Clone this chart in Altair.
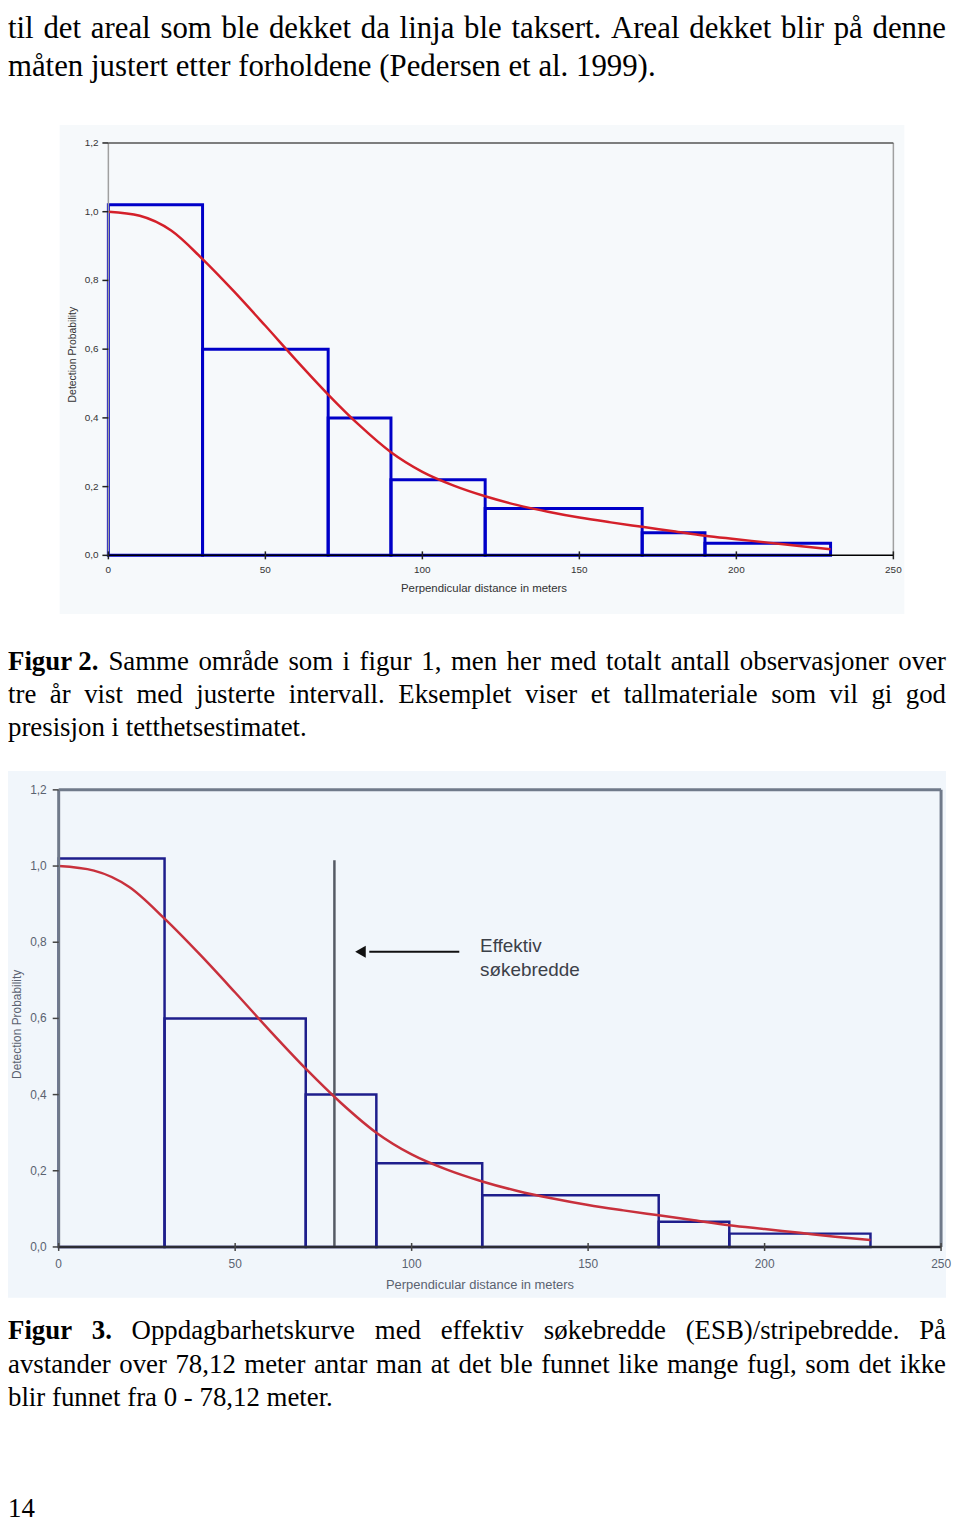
import altair as alt
import pandas as pd

# ---------------- data ----------------
bin_start = [0, 30, 70, 90, 120, 170, 190]
bin_end = [30, 70, 90, 120, 170, 190, 230]
bin_height = [1.02, 0.60, 0.40, 0.22, 0.136, 0.066, 0.035]

curve_dist = [0, 10, 20, 30, 40, 50, 60, 70, 80, 90, 100, 110, 120,
              130, 140, 150, 160, 170, 180, 190, 200, 210, 220, 230]
curve_prob = [1.00, 0.988, 0.945, 0.862, 0.768, 0.668, 0.566, 0.468, 0.378, 0.300,
              0.243, 0.203, 0.172, 0.147, 0.127, 0.110, 0.096, 0.083, 0.070, 0.057,
              0.047, 0.037, 0.027, 0.018]

y_ticks = [0.0, 0.2, 0.4, 0.6, 0.8, 1.0, 1.2]
y_tick_labels = ["0,0", "0,2", "0,4", "0,6", "0,8", "1,0", "1,2"]
x_ticks = [0, 50, 100, 150, 200, 250]
x_tick_labels = ["0", "50", "100", "150", "200", "250"]

esb_distance = 78.12
esb_top = 1.015
arrow_from = 113.5
arrow_to = 88.0
arrow_level = 0.775
esb_label_x = 119.4
esb_label_lines = ["Effektiv", "søkebredde"]
esb_label_levels = [0.79, 0.728]

x_title = "Perpendicular distance in meters"
y_title = "Detection Probability"

# ---------------- page text ----------------
top_lines = [
    ("til det areal som ble dekket da linja ble taksert. Areal dekket blir på denne", True),
    ("måten justert etter forholdene (Pedersen et al. 1999).", False),
]
cap2_lines = [
    ([("Figur 2.", True)] + [(w, False) for w in "Samme område som i figur 1, men her med totalt antall observasjoner over".split()], True),
    ([(w, False) for w in "tre år vist med justerte intervall. Eksemplet viser et tallmateriale som vil gi god".split()], True),
    ([(w, False) for w in "presisjon i tetthetsestimatet.".split()], False),
]
cap3_lines = [
    ([("Figur", True), ("3.", True)] + [(w, False) for w in "Oppdagbarhetskurve med effektiv søkebredde (ESB)/stripebredde. På".split()], True),
    ([(w, False) for w in "avstander over 78,12 meter antar man at det ble funnet like mange fugl, som det ikke".split()], True),
    ([(w, False) for w in "blir funnet fra 0 - 78,12 meter.".split()], False),
]
page_number = "14"

# Times-compatible advance widths (per 1000 em) used to justify lines
REG = {' ': 250, '(': 333, ')': 333, ',': 250, '-': 333, '.': 250, '/': 278,
       'A': 722, 'B': 667, 'E': 611, 'F': 556, 'O': 722, 'P': 556, 'S': 556,
       'a': 444, 'b': 500, 'c': 444, 'd': 500, 'e': 444, 'f': 333, 'g': 500,
       'h': 500, 'i': 278, 'j': 278, 'k': 500, 'l': 278, 'm': 778, 'n': 500,
       'o': 500, 'p': 500, 'q': 500, 'r': 333, 's': 389, 't': 278, 'u': 500,
       'v': 500, 'w': 722, 'x': 500, 'y': 500, 'z': 444, 'å': 444, 'ø': 500}
BOLD = {' ': 250, '.': 250, 'F': 611, 'i': 278, 'g': 500, 'u': 556, 'r': 444}


def word_width(word, bold, size):
    table = BOLD if bold else REG
    return sum(table.get(c, 500) for c in word) * size / 1000.0


def layout(lines, baselines, size, width=944, x0=0):
    rows = []
    for (tokens, justify), yb in zip(lines, baselines):
        widths = [word_width(w, b, size) for w, b in tokens]
        n = len(tokens)
        if justify and n > 1:
            gap = (width - sum(widths)) / (n - 1)
        else:
            gap = 250 * size / 1000.0
        x = x0
        for (w, b), ww in zip(tokens, widths):
            rows.append({"w": w, "x": x, "y": yb, "s": size, "bold": b})
            x += ww + gap
    return pd.DataFrame(rows)


def text_panel(df, height):
    layers = []
    for bold in (False, True):
        sub = df[df["bold"] == bold]
        if len(sub) == 0:
            continue
        layers.append(
            alt.Chart(sub).mark_text(
                font="Liberation Serif", align="left", baseline="alphabetic",
                color="#000000", fontWeight="bold" if bold else "normal"
            ).encode(
                x=alt.X("x:Q", scale=None, axis=None),
                y=alt.Y("y:Q", scale=None, axis=None),
                text="w:N",
                size=alt.Size("s:Q", scale=None, legend=None),
            )
        )
    return alt.layer(*layers).properties(width=944, height=height)


def plot_panel(p):
    xs = alt.Scale(domain=[0, 250], range=[p["x0"], p["x1"]], nice=False, zero=False)
    ys = alt.Scale(domain=[0, 1.2], range=[p["y0"], p["y1"]], nice=False, zero=False)

    def X(f):
        return alt.X(f, type="quantitative", scale=xs, axis=None)

    def Y(f):
        return alt.Y(f, type="quantitative", scale=ys, axis=None)

    one = pd.DataFrame({"a": [0]})
    bars = pd.DataFrame({"start": bin_start, "end": bin_end, "h": bin_height,
                         "base": [0] * len(bin_start)})
    curve = pd.DataFrame({"d": curve_dist, "p": curve_prob})
    yt = pd.DataFrame({"v": y_ticks, "lab": y_tick_labels})
    xt = pd.DataFrame({"v": x_ticks, "lab": x_tick_labels})

    layers = []
    layers.append(alt.Chart(one).mark_rect(color=p["bg"]).encode(
        x=alt.value(p["bx0"]), x2=alt.value(p["bx1"]),
        y=alt.value(p["by0"]), y2=alt.value(p["by1"])))
    layers.append(alt.Chart(bars).mark_rect(
        fill="transparent", stroke=p["bar"], strokeWidth=p["barw"]).encode(
        x=X("start"), x2="end", y=Y("h"), y2="base"))
    layers.extend(p.get("under", lambda X, Y: [])(X, Y))
    layers.append(alt.Chart(curve).mark_line(
        color=p["red"], strokeWidth=2.5, interpolate="monotone").encode(
        x=X("d"), y=Y("p")))
    # frame: left, right, top, bottom
    frame = pd.DataFrame({"x": [0], "x2": [250], "y": [0], "y2": [1.2]})
    layers.append(alt.Chart(frame).mark_rule(color=p["left"], strokeWidth=p["fw"]).encode(
        x=X("x"), y=Y("y"), y2="y2"))
    layers.append(alt.Chart(frame).mark_rule(color=p["right"], strokeWidth=p["fw"]).encode(
        x=X("x2"), y=Y("y"), y2="y2"))
    layers.append(alt.Chart(frame).mark_rule(color=p["top"], strokeWidth=p["fw"]).encode(
        x=X("x"), x2="x2", y=Y("y2")))
    layers.append(alt.Chart(frame).mark_rule(color=p["bottom"], strokeWidth=p["bw"]).encode(
        x=X("x"), x2="x2", y=Y("y")))
    # ticks and labels
    layers.append(alt.Chart(yt).mark_rule(color=p["tick"], strokeWidth=1.5).encode(
        y=Y("v"), x=alt.value(p["x0"] - 6), x2=alt.value(p["x0"])))
    layers.append(alt.Chart(yt).mark_text(
        align="right", baseline="middle", font="Liberation Sans",
        fontSize=p["lfs"], color=p["lc"]).encode(
        y=Y("v"), x=alt.value(p["ylx"]), text="lab:N"))
    layers.append(alt.Chart(xt).mark_rule(color=p["tick"], strokeWidth=1.5).encode(
        x=X("v"), y=alt.value(p["y0"] - 4), y2=alt.value(p["y0"] + 4)))
    layers.append(alt.Chart(xt).mark_text(
        align="center", baseline="middle", font="Liberation Sans",
        fontSize=p["lfs"], color=p["lc"]).encode(
        x=X("v"), y=alt.value(p["xly"]), text="lab:N"))
    layers.append(alt.Chart(one).mark_text(
        text=x_title, align="center", baseline="middle", font="Liberation Sans",
        fontSize=p["tfs"], color=p["lc"]).encode(
        x=alt.value(p["xtx"]), y=alt.value(p["xty"])))
    layers.append(alt.Chart(one).mark_text(
        text=y_title, align="center", baseline="middle", font="Liberation Sans",
        fontSize=p["ytfs"], color=p["lc"], angle=270).encode(
        x=alt.value(p["ytx"]), y=alt.value(p["yty"])))
    layers.extend(p.get("over", lambda X, Y: [])(X, Y))
    return alt.layer(*layers).properties(width=944, height=p["h"])


def esb_layers(X, Y):
    esb = pd.DataFrame({"x": [esb_distance], "y": [0], "y2": [esb_top]})
    return [alt.Chart(esb).mark_rule(color="#555a64", strokeWidth=2.5).encode(
        x=X("x"), y=Y("y"), y2="y2")]


def arrow_layers(X, Y):
    arr = pd.DataFrame({"x": [arrow_to], "x2": [arrow_from], "y": [arrow_level]})
    head = pd.DataFrame({"x": [arrow_to - 2.5], "y": [arrow_level]})
    lab = pd.DataFrame({"x": [esb_label_x] * 2, "y": esb_label_levels, "t": esb_label_lines})
    return [
        alt.Chart(arr).mark_rule(color="#111111", strokeWidth=2).encode(
            x=X("x"), x2="x2", y=Y("y")),
        alt.Chart(head).mark_point(shape="triangle-left", filled=True, size=150,
                                   color="#111111", opacity=1).encode(
            x=X("x"), y=Y("y")),
        alt.Chart(lab).mark_text(align="left", baseline="middle", font="Liberation Sans",
                                 fontSize=19, color="#3c4048").encode(
            x=X("x"), y=Y("y"), text="t:N"),
    ]


chart1 = plot_panel(dict(
    h=495, x0=101, x1=891, y0=433, y1=18, bx0=52, bx1=902, by0=0, by1=492,
    bg="#f6f9fb", bar="#0000c8", barw=3, red="#d4202a",
    left="#a0a0a0", right="#a0a0a0", top="#555555", bottom="#000000", fw=1.5, bw=1.5,
    tick="#222222", lfs=10, lc="#333333", ylx=91, xly=448, tfs=11.5,
    xtx=479, xty=467, ytfs=10.5, ytx=65, yty=231))

chart2 = plot_panel(dict(
    h=540, x0=51, x1=939, y0=484, y1=24, bx0=0, bx1=944, by0=5, by1=535,
    bg="#f1f6fb", bar="#1e1e8c", barw=2.5, red="#c8303c",
    left="#707a8a", right="#707a8a", top="#707a8a", bottom="#2c2c34", fw=3, bw=2.5,
    tick="#444444", lfs=12, lc="#5a6270", ylx=39, xly=501, tfs=13,
    xtx=475, xty=522, ytfs=12, ytx=9, yty=260,
    under=esb_layers, over=arrow_layers))

top_df = layout([([(w, False) for w in t.split()], j) for t, j in top_lines], [20, 59], 31)
cap2_df = layout(cap2_lines, [53, 87, 120], 27)
cap3_df = layout(cap3_lines, [37, 71, 104], 27)

pn = pd.DataFrame({"w": [page_number], "x": [0], "y": [216], "s": [27], "bold": [False]})
cap3_df = pd.concat([cap3_df, pn], ignore_index=True)

panel_top = text_panel(top_df, 108)
panel_cap2 = text_panel(cap2_df, 150)
panel_cap3 = text_panel(cap3_df, 220)

chart = alt.vconcat(panel_top, chart1, panel_cap2, chart2, panel_cap3,
                    spacing=0, bounds="flush").properties(
    padding=0, background="#ffffff"
).configure_view(stroke=None)

chart.save("out.html", embed_options={"renderer": "svg", "actions": False})
